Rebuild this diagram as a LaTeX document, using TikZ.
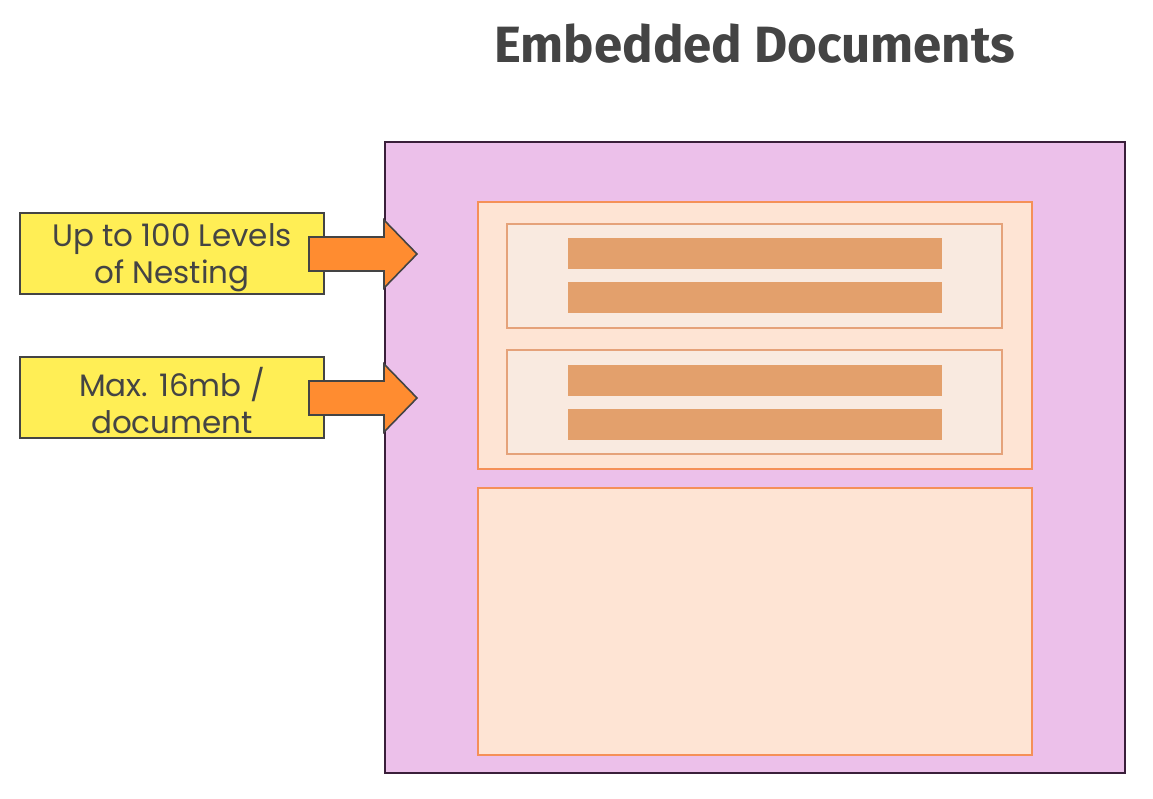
\documentclass[tikz,border=0pt]{standalone}
\usepackage{fontspec}
\setmainfont{Poppins}
\newfontfamily\titlefont{Fira Sans}
\definecolor{outerfill}{HTML}{ECC0EA}
\definecolor{outerline}{HTML}{3A1F3A}
\definecolor{contfill}{HTML}{FEE4D4}
\definecolor{contline}{HTML}{F59058}
\definecolor{docfill}{HTML}{F9EAE0}
\definecolor{docline}{HTML}{E5A27A}
\definecolor{barfill}{HTML}{E3A06C}
\definecolor{notefill}{HTML}{FFEE55}
\definecolor{noteline}{HTML}{444444}
\definecolor{arrowfill}{HTML}{FF8C30}
\definecolor{titlecol}{HTML}{444444}
\tikzset{
  outerbox/.style={fill=outerfill,draw=outerline,line width=2pt},
  contbox/.style={fill=contfill,draw=contline,line width=1.8pt},
  docbox/.style={fill=docfill,draw=docline,line width=1.6pt},
  barbox/.style={fill=barfill,draw=none},
  notebox/.style={fill=notefill,draw=noteline,line width=1.6pt},
  notetext/.style={font=\fontsize{31}{37}\selectfont,text=titlecol,align=center},
  blockarrow/.style={fill=arrowfill,draw=noteline,line width=1.6pt,line join=miter},
}
\begin{document}
\begin{tikzpicture}[x=1pt,y=-1pt]
\useasboundingbox (0,0) rectangle (1153,798);
\node[font=\titlefont\bfseries\fontsize{51}{60}\selectfont,text=titlecol] (title) at (755,44) {Embedded Documents};
\draw[outerbox] (385,142) rectangle (1125,773);
\draw[contbox] (478,202) rectangle (1032,469);
\draw[docbox] (507,224) rectangle (1002,328);
\fill[barbox] (568,238) rectangle (942,269);
\fill[barbox] (568,282) rectangle (942,313);
\draw[docbox] (507,350) rectangle (1002,454);
\fill[barbox] (568,365) rectangle (942,396);
\fill[barbox] (568,409) rectangle (942,440);
\draw[contbox] (478,488) rectangle (1032,755);
\draw[notebox] (20,213) rectangle (324,294);
\node[notetext] (note1) at (172,258) {Up to 100 Levels\\of Nesting};
\draw[notebox] (20,357) rectangle (324,438);
\node[notetext] (note2) at (172,401) {Max. 16mb /\\document};
\draw[blockarrow] (309,237) -- (384,237) -- (384,220) -- (417,254) -- (384,288) -- (384,271) -- (309,271) -- cycle;
\draw[blockarrow] (309,381) -- (384,381) -- (384,364) -- (417,398) -- (384,432) -- (384,415) -- (309,415) -- cycle;
\end{tikzpicture}
\end{document}
